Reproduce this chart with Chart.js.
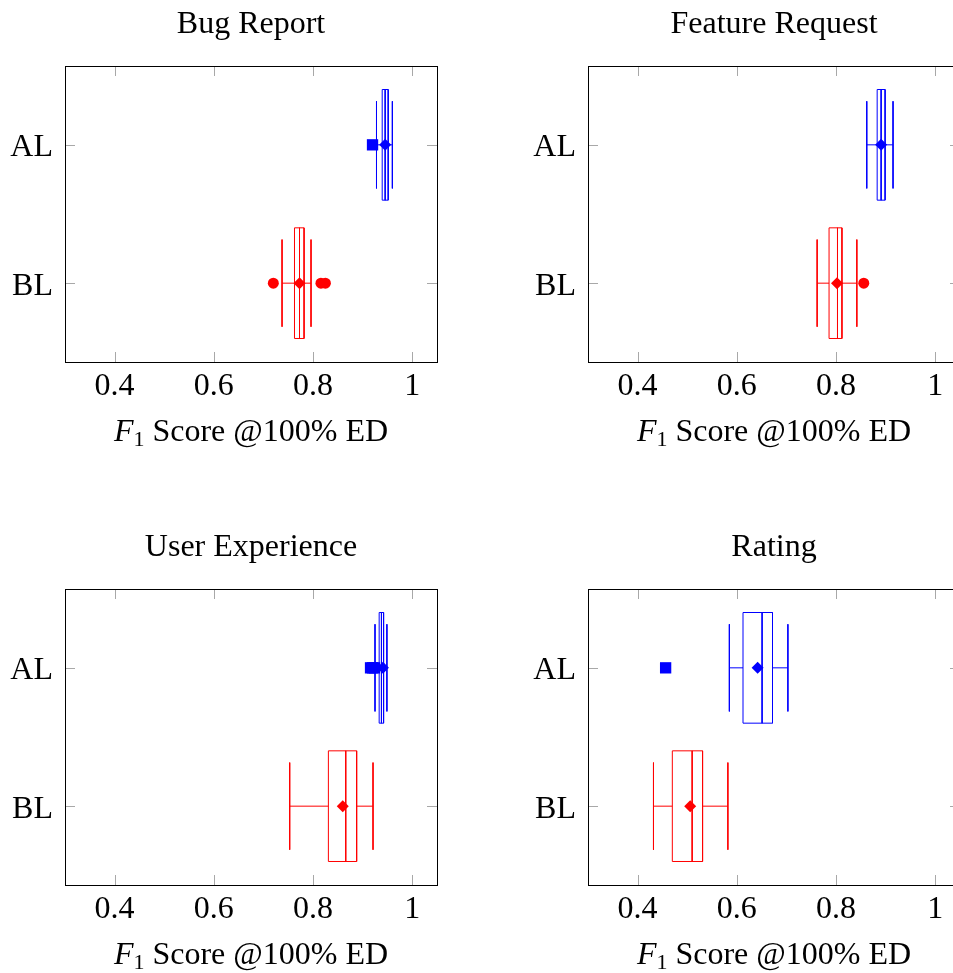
<!DOCTYPE html>
<html>
<head>
<meta charset="utf-8">
<script src="https://cdn.jsdelivr.net/npm/chart.js@4.4.1/dist/chart.umd.min.js"></script>
<style>
  html, body { margin: 0; padding: 0; background: #fff; }
  body { position: relative; width: 953px; height: 973px; overflow: hidden; }
  canvas { position: absolute; }
</style>
</head>
<body>
<canvas id="p0" width="502" height="450" style="left:0;top:0"></canvas>
<canvas id="p1" width="502" height="450" style="left:523px;top:0"></canvas>
<canvas id="p2" width="502" height="450" style="left:0;top:523px"></canvas>
<canvas id="p3" width="502" height="450" style="left:523px;top:523px"></canvas>
<script>
// ── data (one entry per panel) ──
const panelTitles = ['Bug Report', 'Feature Request', 'User Experience', 'Rating'];
const categories = ['AL', 'BL'];
const xTicks = [0.4, 0.6, 0.8, 1];

// AL box plots
const alLow   = [0.928, 0.862, 0.925, 0.585];
const alQ1    = [0.9395, 0.883, 0.9334, 0.6125];
const alMed   = [0.9455, 0.891, 0.938, 0.651];
const alQ3    = [0.9516, 0.899, 0.9423, 0.672];
const alHigh  = [0.960, 0.915, 0.949, 0.703];
const alMean  = [0.9455, 0.891, 0.941, 0.642];
const alOut   = [[0.920], [], [0.916, 0.920, 0.924], [0.4565]];

// BL box plots
const blLow   = [0.7376, 0.762, 0.753, 0.432];
const blQ1    = [0.7627, 0.786, 0.831, 0.470];
const blMed   = [0.7728, 0.803, 0.866, 0.510];
const blQ3    = [0.782, 0.812, 0.888, 0.531];
const blHigh  = [0.796, 0.842, 0.921, 0.582];
const blMean  = [0.7728, 0.802, 0.860, 0.506];
const blOut   = [[0.720, 0.816, 0.825], [0.856], [], []];

const FONT = '"Liberation Serif", "Times New Roman", serif';
const FS = 32;
const BOX_H = 0.4, CAP_H = 0.315;

const groups = [
  { pos: 1, color: '#0000ff', outStyle: 'rect', outRadius: 8,
    low: alLow, q1: alQ1, med: alMed, q3: alQ3, high: alHigh, mean: alMean, out: alOut },
  { pos: 2, color: '#ff0000', outStyle: 'circle', outRadius: 5.5,
    low: blLow, q1: blQ1, med: blMed, q3: blQ3, high: blHigh, mean: blMean, out: blOut }
];

const seg = (pts, color) => ({
  data: pts, showLine: true, borderColor: color, borderWidth: 1,
  pointRadius: 0, pointHoverRadius: 0, fill: false
});

function buildDatasets(i) {
  const marks = [], lines = [];
  groups.forEach(g => {
    const y = g.pos, c = g.color;
    marks.push({ data: [{ x: g.mean[i], y }], pointStyle: 'rectRot', pointRadius: 6,
      backgroundColor: c, borderColor: c, borderWidth: 0 });
    marks.push({ data: g.out[i].map(v => ({ x: v, y })), pointStyle: g.outStyle,
      pointRadius: g.outRadius, backgroundColor: c, borderColor: c, borderWidth: 0 });
    lines.push(seg([{ x: g.q1[i], y: y - BOX_H }, { x: g.q3[i], y: y - BOX_H },
      { x: g.q3[i], y: y + BOX_H }, { x: g.q1[i], y: y + BOX_H }, { x: g.q1[i], y: y - BOX_H }], c));
    lines.push(seg([{ x: g.med[i], y: y - BOX_H }, { x: g.med[i], y: y + BOX_H }], c));
    lines.push(seg([{ x: g.low[i], y }, { x: g.q1[i], y }], c));
    lines.push(seg([{ x: g.q3[i], y }, { x: g.high[i], y }], c));
    lines.push(seg([{ x: g.low[i], y: y - CAP_H }, { x: g.low[i], y: y + CAP_H }], c));
    lines.push(seg([{ x: g.high[i], y: y - CAP_H }, { x: g.high[i], y: y + CAP_H }], c));
  });
  return marks.concat(lines);
}

// frame, inner ticks, title and x label
const decor = {
  id: 'decor',
  afterDraw(chart, args, opts) {
    const { ctx, chartArea: a, scales: { x, y } } = chart;
    ctx.save();
    ctx.strokeStyle = '#a8a8a8';
    ctx.lineWidth = 1;
    ctx.beginPath();
    xTicks.forEach(v => {
      const px = Math.round(x.getPixelForValue(v)) + 0.5;
      ctx.moveTo(px, a.top); ctx.lineTo(px, a.top + 10);
      ctx.moveTo(px, a.bottom); ctx.lineTo(px, a.bottom - 10);
    });
    categories.forEach((c, k) => {
      const py = Math.round(y.getPixelForValue(k + 1)) + 0.5;
      ctx.moveTo(a.left, py); ctx.lineTo(a.left + 10, py);
      ctx.moveTo(a.right, py); ctx.lineTo(a.right - 10, py);
    });
    ctx.stroke();
    ctx.strokeStyle = '#000';
    ctx.strokeRect(Math.round(a.left) + 0.5, Math.round(a.top) + 0.5,
      Math.round(a.right - a.left), Math.round(a.bottom - a.top));

    const cx = (a.left + a.right) / 2;
    ctx.fillStyle = '#000';
    ctx.textBaseline = 'alphabetic';
    ctx.textAlign = 'center';
    ctx.font = FS + 'px ' + FONT;
    ctx.fillText(opts.title, cx, a.top - 33);

    // F₁ Score @100% ED
    const parts = [
      { t: 'F', f: 'italic ' + FS + 'px ' + FONT, dy: 0 },
      { t: '1', f: '22px ' + FONT, dy: 5 },
      { t: ' Score @100% ED', f: FS + 'px ' + FONT, dy: 0 }
    ];
    let total = 0;
    parts.forEach(p => { ctx.font = p.f; p.w = ctx.measureText(p.t).width; total += p.w; });
    let px = cx - total / 2;
    const base = a.bottom + 79;
    ctx.textAlign = 'left';
    parts.forEach(p => { ctx.font = p.f; ctx.fillText(p.t, px, base + p.dy); px += p.w; });
    ctx.restore();
  }
};

Chart.defaults.font.family = FONT;
Chart.defaults.font.size = FS;
Chart.defaults.color = '#000';

panelTitles.forEach((title, i) => {
  new Chart(document.getElementById('p' + i), {
    type: 'scatter',
    data: { datasets: buildDatasets(i) },
    options: {
      responsive: false, animation: false, events: [],
      layout: { padding: { top: 66, right: 65, left: 0, bottom: 0 } },
      plugins: { legend: { display: false }, tooltip: { enabled: false }, decor: { title } },
      scales: {
        x: {
          type: 'linear', min: 0.3, max: 1.05,
          grid: { display: false, drawTicks: false }, border: { display: false },
          afterBuildTicks: s => { s.ticks = xTicks.map(v => ({ value: v })); },
          afterFit: s => { s.height = 88; },
          ticks: { padding: 5, maxRotation: 0, callback: v => String(v) }
        },
        y: {
          type: 'linear', min: 0.43, max: 2.57, reverse: true,
          grid: { display: false, drawTicks: false }, border: { display: false },
          afterBuildTicks: s => { s.ticks = categories.map((c, k) => ({ value: k + 1 })); },
          afterFit: s => { s.width = 65; },
          ticks: { padding: 12, labelOffset: 3, callback: v => categories[v - 1] }
        }
      }
    },
    plugins: [decor]
  });
});
</script>
</body>
</html>
